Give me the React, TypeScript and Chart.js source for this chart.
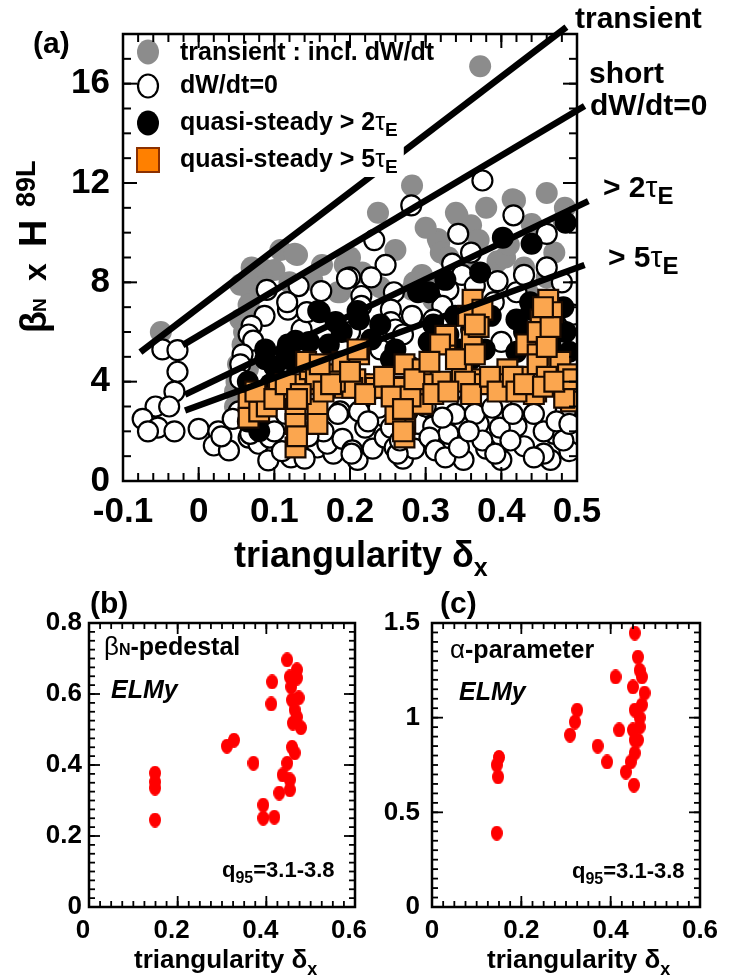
import React, { useEffect, useRef } from "react";
import { Chart, registerables } from "chart.js";
Chart.register(...registerables);

const FONT = "'Liberation Sans', Arial, Helvetica, sans-serif";

// ---------------- panel (a) ----------------
const xTicksA = [-0.1, 0, 0.1, 0.2, 0.3, 0.4, 0.5];
const xTickLabelsA = ["-0.1", "0", "0.1", "0.2", "0.3", "0.4", "0.5"];
const yTicksA = [0, 4, 8, 12, 16];
const yTickLabelsA = ["0", "4", "8", "12", "16"];

const transientPts: number[][] = [
  [0.372, 16.7], [0.282, 11.9], [0.46, 11.6], [0.418, 11.3], [0.484, 11.0], [0.34, 10.8], [0.237, 10.8],
  [0.36, 10.3], [0.44, 10.35], [0.316, 9.75], [0.13, 9.1], [0.108, 9.3], [0.163, 8.7], [0.193, 8.7],
  [0.088, 8.5], [0.395, 8.85], [0.298, 8.1], [0.075, 8.1], [0.1, 8.5], [0.085, 8.0], [0.07, 7.45],
  [0.066, 7.1], [0.187, 7.6], [-0.05, 6.0], [0.415, 11.35], [0.342, 10.7], [0.482, 10.5], [0.318, 9.6],
  [0.445, 10.1], [0.295, 8.3], [0.282, 7.7], [0.435, 7.6], [0.052, 4.7], [0.048, 3.6], [0.055, 6.5],
  [0.058, 5.5], [0.216, 8.4], [0.184, 7.6], [0.285, 8.0], [0.35, 8.6], [0.127, 9.15], [0.05, 4.0],
  [0.32, 9.2], [0.405, 9.0], [0.055, 7.9], [0.06, 6.0], [0.065, 4.5], [0.07, 8.6], [0.12, 8.0],
  [0.15, 8.1], [0.2, 9.0], [0.26, 9.3], [0.3, 10.2], [0.33, 9.0], [0.37, 9.7], [0.38, 11.0], [0.41, 9.5],
  [0.43, 8.6], [0.47, 9.2], [0.46, 8.2], [0.31, 7.3], [0.24, 7.8], [0.048, 3.0], [0.06, 2.6],
];

const steadyZeroPts: number[][] = [
  [0.375, 12.1], [0.281, 11.1], [0.416, 10.7], [0.232, 9.7], [0.343, 9.95], [0.46, 9.95], [0.36, 9.2],
  [0.335, 8.75], [0.247, 8.7], [0.228, 8.2], [0.348, 8.3], [0.395, 8.05], [0.258, 7.6], [0.215, 7.45],
  [0.2, 8.2], [0.33, 7.7], [0.365, 7.85], [0.42, 7.6], [0.254, 6.9], [0.215, 7.05], [0.322, 7.05],
  [0.282, 6.65], [0.254, 6.4], [0.196, 8.15], [0.162, 7.65], [0.132, 7.85], [0.118, 6.9], [0.087, 6.65],
  [0.07, 6.25], [0.066, 5.9], [0.136, 6.1], [0.117, 7.2], [0.09, 7.7], [0.143, 6.8], [0.072, 5.65],
  [0.058, 5.1], [0.055, 4.7], [0.055, 4.1], [0.2, 6.0], [0.26, 6.1], [0.31, 6.5], [0.39, 7.2], [0.44, 6.8],
  [0.495, 6.7], [0.48, 8.0], [0.46, 8.6], [0.43, 8.3], [0.24, 5.3], [0.27, 5.9], [0.35, 6.0], [0.4, 5.6],
  [-0.048, 5.3], [-0.028, 5.27], [-0.028, 4.4], [-0.032, 3.6], [-0.057, 3.0], [-0.039, 3.0], [-0.074, 2.5],
  [-0.054, 2.15], [-0.032, 2.0], [-0.067, 2.0], [0.0, 2.1], [0.026, 2.0], [0.02, 1.43], [0.04, 1.23],
  [0.066, 1.75], [0.053, 2.8], [0.079, 1.5], [0.092, 0.83], [0.122, 0.95], [0.098, 2.5], [0.157, 1.35],
  [0.187, 2.8], [0.178, 1.1], [0.157, 2.3], [0.068, 1.9], [0.094, 1.75], [0.13, 1.35], [0.17, 1.5],
  [0.03, 1.8], [0.045, 2.5], [0.11, 1.2], [0.14, 0.9], [0.165, 2.0], [0.19, 1.7], [0.21, 0.85],
  [0.23, 1.3], [0.245, 2.6], [0.27, 0.9], [0.285, 1.3], [0.29, 2.3], [0.31, 2.2], [0.33, 1.9],
  [0.35, 0.85], [0.37, 2.3], [0.38, 1.3], [0.4, 0.85], [0.42, 2.2], [0.43, 1.4], [0.465, 0.85],
  [0.47, 1.9], [0.49, 1.2], [0.485, 2.8], [0.4, 3.2], [0.355, 3.1], [0.3, 3.0], [0.22, 3.2], [0.13, 3.3],
  [0.1, 2.0], [0.115, 2.7], [0.145, 1.8],
  [0.22, 2.15], [0.212, 2.8], [0.238, 2.95], [0.305, 1.75], [0.313, 1.23], [0.326, 0.95], [0.339, 2.7],
  [0.344, 1.35], [0.365, 2.7], [0.375, 1.63], [0.388, 2.95], [0.398, 2.15], [0.412, 1.63], [0.415, 2.7],
  [0.392, 1.1], [0.443, 2.7], [0.456, 2.0], [0.473, 2.4], [0.482, 1.63], [0.456, 1.1], [0.49, 2.3],
  [0.443, 0.95], [0.357, 2.0], [0.322, 2.55], [0.246, 1.75], [0.259, 1.35], [0.203, 1.23], [0.184, 2.7],
  [0.224, 2.4], [0.202, 1.1], [0.254, 2.15], [0.263, 1.1], [0.276, 2.8], [0.266, 1.63],
];

const quasi2Pts: number[][] = [
  [0.485, 10.4], [0.402, 9.8], [0.44, 9.55], [0.372, 8.4], [0.304, 7.6], [0.326, 8.1], [0.438, 7.2],
  [0.482, 7.0], [0.212, 6.5], [0.16, 6.8], [0.181, 6.4], [0.128, 5.65], [0.158, 6.85], [0.21, 6.85],
  [0.29, 7.6], [0.304, 5.6], [0.344, 5.3], [0.36, 4.9], [0.42, 6.5], [0.49, 5.2], [0.485, 6.0],
  [0.078, 2.4], [0.065, 2.4], [0.118, 5.5], [0.189, 6.0], [0.228, 5.7], [0.254, 4.9], [0.386, 6.65],
  [0.378, 5.3], [0.41, 4.0], [0.088, 4.9], [0.065, 4.0], [0.339, 6.65], [0.088, 5.3], [0.115, 5.2],
  [0.146, 5.6], [0.172, 5.5], [0.07, 3.2], [0.08, 2.0], [0.455, 6.2], [0.465, 5.5], [0.28, 4.6], [0.43, 6.0],
  [0.1, 4.6], [0.12, 4.9], [0.095, 3.9], [0.31, 6.3], [0.33, 5.9], [0.42, 5.2], [0.47, 6.6], [0.44, 6.9],
  [0.46, 7.3], [0.36, 6.1], [0.24, 6.3], [0.26, 5.3],
];

const quasi5Pts: number[][] = [
  [0.066, 3.2], [0.066, 2.55], [0.083, 3.35], [0.106, 3.7], [0.128, 2.9], [0.128, 2.3], [0.128, 1.35],
  [0.157, 2.9], [0.157, 2.3], [0.151, 3.9], [0.128, 3.9], [0.147, 4.5], [0.177, 4.3], [0.19, 4.8],
  [0.193, 3.75], [0.212, 5.1], [0.212, 3.9], [0.233, 3.9], [0.263, 3.8], [0.272, 4.7], [0.296, 4.5],
  [0.296, 4.1], [0.296, 3.1], [0.273, 2.3], [0.272, 1.75], [0.26, 2.7], [0.32, 4.0], [0.326, 5.7],
  [0.361, 5.7], [0.364, 4.1], [0.377, 3.9], [0.348, 4.3], [0.405, 4.0], [0.408, 4.5], [0.437, 4.2],
  [0.452, 4.9], [0.452, 5.6], [0.446, 3.6], [0.478, 4.8], [0.49, 3.9], [0.49, 3.35], [0.433, 5.5],
  [0.207, 4.1], [0.362, 7.3], [0.462, 7.3], [0.356, 6.65], [0.375, 6.9], [0.452, 6.5], [0.467, 6.8],
  [0.448, 6.0], [0.448, 5.1], [0.448, 4.7], [0.326, 5.85], [0.319, 5.5], [0.21, 5.3], [0.142, 4.8],
  [0.203, 3.75], [0.234, 3.75], [0.266, 3.75], [0.296, 3.9], [0.352, 4.0], [0.406, 3.9], [0.443, 3.5],
  [0.492, 3.75], [0.492, 3.2], [0.483, 3.35], [0.18, 4.0], [0.155, 4.1], [0.08, 2.8], [0.09, 3.0],
  [0.488, 4.3], [0.46, 4.2],
  [0.075, 3.6], [0.1, 3.3], [0.115, 3.9], [0.135, 3.5], [0.165, 3.6], [0.175, 3.9], [0.22, 3.5],
  [0.245, 4.2], [0.255, 3.4], [0.28, 3.4], [0.285, 4.1], [0.31, 3.5], [0.33, 3.6], [0.34, 4.9],
  [0.36, 3.5], [0.365, 5.1], [0.37, 6.2], [0.385, 4.2], [0.395, 3.6], [0.415, 4.2], [0.42, 3.6],
  [0.43, 3.9], [0.455, 3.8], [0.46, 5.4], [0.465, 6.2], [0.47, 4.0], [0.495, 4.1], [0.13, 1.8],
  [0.13, 3.3], [0.27, 2.0], [0.27, 2.9], [0.2, 4.4], [0.16, 4.7], [0.305, 4.8], [0.455, 7.0], [0.365, 6.3],
];

const lineTransient: number[][] = [[-0.077, 5.19], [0.486, 18.28]];
const lineShort: number[][] = [[-0.021, 5.47], [0.51, 15.1]];
const line2tau: number[][] = [[-0.018, 3.48], [0.515, 11.27]];
const line5tau: number[][] = [[-0.018, 2.84], [0.51, 8.7]];

// ---------------- panels (b), (c) ----------------
const xTicksBC = [0, 0.2, 0.4, 0.6];
const xTickLabelsBC = ["0", "0.2", "0.4", "0.6"];
const yTicksB = [0, 0.2, 0.4, 0.6, 0.8];
const yTickLabelsB = ["0", "0.2", "0.4", "0.6", "0.8"];
const yTicksC = [0, 0.5, 1, 1.5];
const yTickLabelsC = ["0", "0.5", "1", "1.5"];

const pedestalPts: number[][] = [
  [0.149, 0.377], [0.149, 0.352], [0.149, 0.335], [0.149, 0.245], [0.311, 0.453], [0.327, 0.47],
  [0.371, 0.405], [0.393, 0.287], [0.393, 0.25], [0.418, 0.253], [0.411, 0.572], [0.413, 0.634],
  [0.429, 0.321], [0.437, 0.372], [0.447, 0.696], [0.447, 0.405], [0.453, 0.33], [0.458, 0.45],
  [0.46, 0.518], [0.458, 0.583], [0.456, 0.62], [0.469, 0.668], [0.473, 0.589], [0.469, 0.535],
  [0.478, 0.505], [0.464, 0.434], [0.453, 0.358], [0.453, 0.648], [0.469, 0.645], [0.464, 0.555],
];

const alphaPts: number[][] = [
  [0.145, 0.39], [0.148, 0.687], [0.145, 0.75], [0.15, 0.79], [0.309, 0.908], [0.32, 0.977],
  [0.325, 1.04], [0.371, 0.85], [0.392, 0.766], [0.411, 1.215], [0.419, 0.935], [0.434, 0.713],
  [0.452, 0.644], [0.454, 1.447], [0.461, 1.32], [0.45, 1.162], [0.47, 1.215], [0.465, 1.25],
  [0.476, 1.13], [0.454, 1.04], [0.465, 1.0], [0.45, 0.935], [0.461, 0.882], [0.454, 0.813],
  [0.445, 0.766], [0.47, 1.067], [0.465, 0.951], [0.454, 0.882],
];

// ---------------- helpers ----------------
type Part = { t: string; s: number; w?: string; st?: string; dy?: number };
const fnt = (p: Part) => `${p.st ?? "normal"} ${p.w ?? "bold"} ${p.s}px ${FONT}`;
function rich(ctx: CanvasRenderingContext2D, parts: Part[], x: number, y: number) {
  let cx = x;
  for (const p of parts) {
    ctx.font = fnt(p);
    ctx.fillText(p.t, cx, y + (p.dy ?? 0));
    cx += ctx.measureText(p.t).width;
  }
  return cx;
}
const toXY = (a: number[][]) => a.map(([x, y]) => ({ x, y }));
function steps(a: number, b: number, st: number) {
  const r: number[] = [];
  const n = Math.round((b - a) / st);
  for (let i = 0; i <= n; i++) r.push(a + i * st);
  return r;
}
function frameTicks(chart: any, c: { xMin: number[]; xMaj: number[]; yMin: number[]; yMaj: number[]; minLen: number; majLen: number; tw: number; fw: number }) {
  const { ctx, chartArea: a, scales } = chart;
  const xs = scales.x, ys = scales.y;
  ctx.save();
  ctx.strokeStyle = "#000";
  const seg = (x1: number, y1: number, x2: number, y2: number) => {
    ctx.beginPath(); ctx.moveTo(x1, y1); ctx.lineTo(x2, y2); ctx.stroke();
  };
  ctx.lineWidth = c.tw;
  const dx = (vals: number[], len: number) => {
    for (const v of vals) {
      const p = xs.getPixelForValue(v);
      seg(p, a.bottom, p, a.bottom - len);
      seg(p, a.top, p, a.top + len);
    }
  };
  const dy = (vals: number[], len: number) => {
    for (const v of vals) {
      const p = ys.getPixelForValue(v);
      seg(a.left, p, a.left + len, p);
      seg(a.right, p, a.right - len, p);
    }
  };
  dx(c.xMin, c.minLen); dy(c.yMin, c.minLen);
  dx(c.xMaj, c.majLen); dy(c.yMaj, c.majLen);
  ctx.lineWidth = c.fw;
  ctx.strokeRect(a.left, a.top, a.right - a.left, a.bottom - a.top);
  ctx.restore();
}

function makeEllipse(w: number, h: number, color: string) {
  const c = document.createElement("canvas");
  c.width = w; c.height = h;
  const g = c.getContext("2d")!;
  g.fillStyle = color;
  g.beginPath();
  g.ellipse(w / 2, h / 2, w / 2, h / 2, 0, 0, Math.PI * 2);
  g.fill();
  return c;
}

function axisCfg(o: { min: number; max: number; ticks: number[]; labels: string[]; size: number; pad: number; fit: number; vertical: boolean; offset?: number }) {
  return {
    type: "linear" as const,
    min: o.min,
    max: o.max,
    grid: { display: false, drawTicks: false },
    border: { display: false },
    afterBuildTicks: (s: any) => { s.ticks = o.ticks.map((v) => ({ value: v })); },
    afterFit: (s: any) => { if (o.vertical) s.width = o.fit; else s.height = o.fit; },
    ticks: {
      autoSkip: false,
      maxRotation: 0,
      minRotation: 0,
      padding: o.pad,
      labelOffset: o.offset ?? 0,
      color: "#000",
      font: { family: FONT, size: o.size, weight: "bold" as const },
      callback: (_v: any, i: number) => o.labels[i],
    },
  };
}

function makeA(cv: HTMLCanvasElement) {
  const lineDs = (d: number[][]) => ({
    data: toXY(d), showLine: true, borderColor: "#000", borderWidth: 6.5, pointRadius: 0,
    clip: false as any, order: 1, borderCapStyle: "butt" as const,
  });
  const plugin = {
    id: "panelA",
    afterDatasetsDraw(chart: any) {
      const ctx: CanvasRenderingContext2D = chart.ctx;
      ctx.save();
      ctx.textBaseline = "alphabetic";
      ctx.textAlign = "left";
      // legend
      const rows = [
        { y: 60, parts: [{ t: "transient : incl. dW/dt", s: 25 }] as Part[] },
        { y: 93, parts: [{ t: "dW/dt=0", s: 25 }] as Part[] },
        { y: 130, parts: [{ t: "quasi-steady > 2", s: 25 }, { t: "τ", s: 25, w: "normal" }, { t: "E", s: 19, dy: 6 }] as Part[] },
        { y: 167, parts: [{ t: "quasi-steady > 5", s: 25 }, { t: "τ", s: 25, w: "normal" }, { t: "E", s: 19, dy: 6 }] as Part[] },
      ];
      for (const r of rows) {
        let w = 0;
        for (const p of r.parts) { ctx.font = fnt(p); w += ctx.measureText(p.t).width; }
        ctx.fillStyle = "#fff";
        ctx.fillRect(176, r.y - 22, w + 10, 32);
      }
      ctx.fillStyle = "#000";
      for (const r of rows) rich(ctx, r.parts, 180, r.y);
      // legend markers
      const mx = 148;
      ctx.beginPath(); ctx.ellipse(mx, 52, 11, 12.5, 0, 0, Math.PI * 2); ctx.fillStyle = "#8c8c8c"; ctx.fill();
      ctx.beginPath(); ctx.ellipse(mx, 86, 10, 11.5, 0, 0, Math.PI * 2); ctx.fillStyle = "#fff"; ctx.fill();
      ctx.lineWidth = 2.2; ctx.strokeStyle = "#000"; ctx.stroke();
      ctx.beginPath(); ctx.ellipse(mx, 123, 11, 12.5, 0, 0, Math.PI * 2); ctx.fillStyle = "#000"; ctx.fill();
      ctx.fillStyle = "#ff8000"; ctx.fillRect(mx - 11, 148, 22, 24);
      ctx.strokeStyle = "#8b3000"; ctx.lineWidth = 2; ctx.strokeRect(mx - 11, 148, 22, 24);
      ctx.restore();

      frameTicks(chart, {
        xMin: steps(-0.1, 0.5, 0.02), xMaj: xTicksA, yMin: steps(0, 18, 1), yMaj: yTicksA,
        minLen: 8, majLen: 14, tw: 2, fw: 2.5,
      });

      ctx.save();
      ctx.fillStyle = "#000";
      ctx.textBaseline = "alphabetic";
      ctx.textAlign = "left";
      rich(ctx, [{ t: "(a)", s: 30 }], 33, 53);
      rich(ctx, [{ t: "transient", s: 30 }], 575, 28);
      rich(ctx, [{ t: "short", s: 30 }], 589, 83);
      rich(ctx, [{ t: "dW/dt=0", s: 30 }], 590, 115);
      rich(ctx, [{ t: "> 2", s: 30 }, { t: "τ", s: 30, w: "normal" }, { t: "E", s: 24, dy: 7 }], 603, 197);
      rich(ctx, [{ t: "> 5", s: 30 }, { t: "τ", s: 30, w: "normal" }, { t: "E", s: 24, dy: 7 }], 608, 267);
      rich(ctx, [{ t: "triangularity δ", s: 36 }, { t: "x", s: 25, dy: 9 }], 234, 567);
      // y title (rotated)
      ctx.translate(46, 333);
      ctx.rotate(-Math.PI / 2);
      const put = (t: string, s: number, x: number, y: number) => { ctx.font = fnt({ t, s }); ctx.fillText(t, x, y); };
      put("β", 36, 0, 0);
      put("N", 19, 21, 0);
      put("x", 32, 52, 0);
      put("H", 38, 86, 0);
      put("89L", 27, 126, -11);
      ctx.restore();
    },
  };
  return new Chart(cv, {
    type: "scatter",
    data: {
      datasets: [
        { data: toXY(transientPts), pointRadius: 11, backgroundColor: "#8c8c8c", borderWidth: 0, order: 6 } as any,
        { data: toXY(steadyZeroPts), pointRadius: 10, backgroundColor: "#fff", borderColor: "#000", borderWidth: 2.2, order: 5 },
        { data: toXY(quasi2Pts), pointRadius: 11, backgroundColor: "#000", borderColor: "#000", borderWidth: 0, order: 4 },
        { data: toXY(quasi5Pts), pointStyle: "rect", pointRadius: 14, backgroundColor: "#fba64f", borderColor: "#1a0a00", borderWidth: 2.2, order: 3 },
        lineDs(lineTransient), lineDs(lineShort), lineDs(line2tau), lineDs(line5tau),
      ] as any,
    },
    options: {
      animation: false,
      responsive: false,
      events: [],
      layout: { padding: { left: 0, right: 154, top: 27, bottom: 0 } },
      plugins: { legend: { display: false }, tooltip: { enabled: false } },
      scales: {
        x: axisCfg({ min: -0.1, max: 0.5, ticks: xTicksA, labels: xTickLabelsA, size: 35, pad: 10, fit: 109, vertical: false }),
        y: axisCfg({ min: 0, max: 18, ticks: yTicksA, labels: yTickLabelsA, size: 35, pad: 13, fit: 123, vertical: true }),
      } as any,
    },
    plugins: [plugin],
  });
}

function makeBC(cv: HTMLCanvasElement, o: {
  pts: number[][]; yMax: number; yTicks: number[]; yLabels: string[]; yMinStep: number; xMinStep: number;
  yFit: number; padRight: number; yPad: number; xOffset: number; ox: number; oy: number;
  tag: string; tagX: number; head: Part[]; headX: number; headY: number; elmX: number; elmY: number;
  qX: number; qY: number; titleX: number;
}) {
  const marker = makeEllipse(12, 15, "#ff0000");
  const plugin = {
    id: "panelBC",
    afterDatasetsDraw(chart: any) {
      frameTicks(chart, {
        xMin: steps(0, 0.6, o.xMinStep), xMaj: xTicksBC, yMin: steps(0, o.yMax, o.yMinStep), yMaj: o.yTicks,
        minLen: 6, majLen: 11, tw: 1.8, fw: 2.5,
      });
      const ctx: CanvasRenderingContext2D = chart.ctx;
      ctx.save();
      ctx.translate(-o.ox, -o.oy);
      ctx.fillStyle = "#000";
      ctx.textBaseline = "alphabetic";
      ctx.textAlign = "left";
      rich(ctx, [{ t: o.tag, s: 30 }], o.tagX, 613);
      rich(ctx, o.head, o.headX, o.headY);
      rich(ctx, [{ t: "ELMy", s: 25, st: "italic" }], o.elmX, o.elmY);
      rich(ctx, [{ t: "q", s: 22 }, { t: "95", s: 16, dy: 6 }, { t: "=3.1-3.8", s: 22 }], o.qX, o.qY);
      rich(ctx, [{ t: "triangularity δ", s: 26 }, { t: "x", s: 18, dy: 7 }], o.titleX, 968);
      ctx.restore();
    },
  };
  return new Chart(cv, {
    type: "scatter",
    data: {
      datasets: [{ data: toXY(o.pts), pointStyle: marker as any, pointRadius: 7, backgroundColor: "#ff0000", borderWidth: 0 }] as any,
    },
    options: {
      animation: false,
      responsive: false,
      events: [],
      layout: { padding: { left: 0, right: o.padRight, top: 33, bottom: 0 } },
      plugins: { legend: { display: false }, tooltip: { enabled: false } },
      scales: {
        x: axisCfg({ min: 0, max: 0.6, ticks: xTicksBC, labels: xTickLabelsBC, size: 26, pad: 8, fit: 73, vertical: false, offset: o.xOffset }),
        y: axisCfg({ min: 0, max: o.yMax, ticks: o.yTicks, labels: o.yLabels, size: 26, pad: o.yPad, fit: o.yFit, vertical: true }),
      } as any,
    },
    plugins: [plugin],
  });
}

export default function App() {
  const refA = useRef<HTMLCanvasElement>(null);
  const refB = useRef<HTMLCanvasElement>(null);
  const refC = useRef<HTMLCanvasElement>(null);
  useEffect(() => {
    const charts = [
      makeA(refA.current!),
      makeBC(refB.current!, {
        pts: pedestalPts, yMax: 0.8, yTicks: yTicksB, yLabels: yTickLabelsB, yMinStep: 0.025, xMinStep: 0.025,
        yFit: 89, padRight: 45, yPad: 7, xOffset: -6, ox: 0, oy: 590,
        tag: "(b)", tagX: 90,
        head: [{ t: "β", s: 26, w: "normal" }, { t: "N", s: 16 }, { t: "-pedestal", s: 25 }], headX: 104, headY: 655,
        elmX: 111, elmY: 698, qX: 222, qY: 877, titleX: 134,
      }),
      makeBC(refC.current!, {
        pts: alphaPts, yMax: 1.5, yTicks: yTicksC, yLabels: yTickLabelsC, yMinStep: 0.05, xMinStep: 0.025,
        yFit: 67, padRight: 31, yPad: 12, xOffset: 0, ox: 365, oy: 590,
        tag: "(c)", tagX: 440,
        head: [{ t: "α", s: 26, w: "normal" }, { t: "-parameter", s: 25 }], headX: 450, headY: 658,
        elmX: 459, elmY: 700, qX: 572, qY: 878, titleX: 487,
      }),
    ];
    return () => charts.forEach((c) => c.destroy());
  }, []);
  return (
    <div style={{ position: "absolute", left: 0, top: 0, width: 731, height: 980, background: "#fff" }}>
      <canvas ref={refA} width={731} height={590} style={{ position: "absolute", left: 0, top: 0, width: 731, height: 590 }} />
      <canvas ref={refB} width={400} height={390} style={{ position: "absolute", left: 0, top: 590, width: 400, height: 390 }} />
      <canvas ref={refC} width={366} height={390} style={{ position: "absolute", left: 365, top: 590, width: 366, height: 390 }} />
    </div>
  );
}
